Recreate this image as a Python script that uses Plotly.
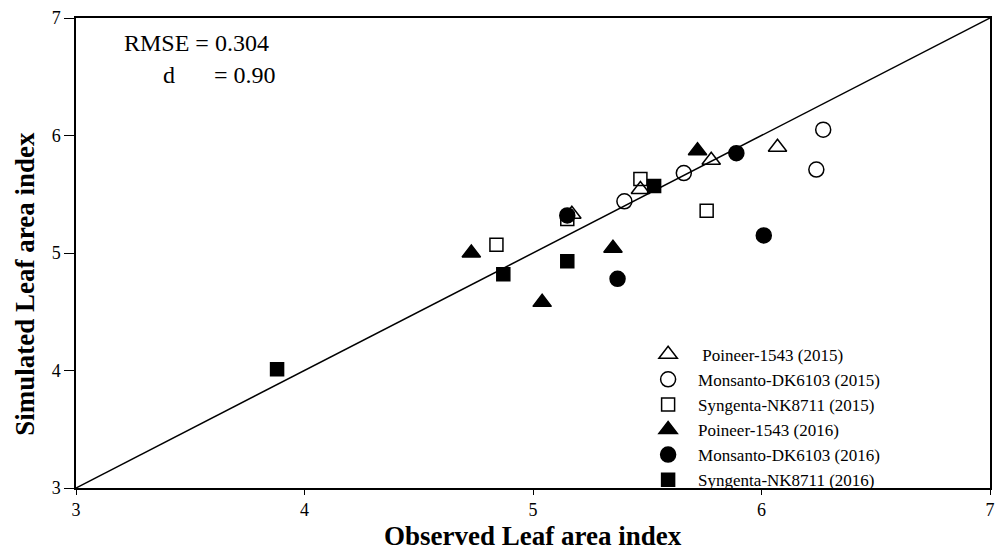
import plotly.graph_objects as go

# Observed vs simulated leaf area index for three maize hybrids, two seasons
series_names = [
    " Poineer-1543 (2015)",
    "Monsanto-DK6103 (2015)",
    "Syngenta-NK8711 (2015)",
    "Poineer-1543 (2016)",
    "Monsanto-DK6103 (2016)",
    "Syngenta-NK8711 (2016)",
]
poineer_2015_obs = [5.17, 5.47, 5.78, 6.07]
poineer_2015_sim = [5.33, 5.54, 5.79, 5.90]
monsanto_2015_obs = [5.40, 5.66, 6.24, 6.27]
monsanto_2015_sim = [5.44, 5.68, 5.71, 6.05]
syngenta_2015_obs = [4.84, 5.15, 5.47, 5.76]
syngenta_2015_sim = [5.07, 5.29, 5.63, 5.36]
poineer_2016_obs = [4.73, 5.04, 5.35, 5.72]
poineer_2016_sim = [5.00, 4.58, 5.04, 5.87]
monsanto_2016_obs = [5.15, 5.37, 5.89, 6.01]
monsanto_2016_sim = [5.32, 4.78, 5.85, 5.15]
syngenta_2016_obs = [3.88, 4.87, 5.15, 5.53]
syngenta_2016_sim = [4.01, 4.82, 4.93, 5.57]

axis_range = [3, 7]
tick_values = [3, 4, 5, 6, 7]
rmse_label = "RMSE = 0.304"
d_label = "d"
d_value = "= 0.90"
x_title = "Observed Leaf area index"
y_title = "Simulated Leaf area index"

observed = [poineer_2015_obs, monsanto_2015_obs, syngenta_2015_obs,
            poineer_2016_obs, monsanto_2016_obs, syngenta_2016_obs]
simulated = [poineer_2015_sim, monsanto_2015_sim, syngenta_2015_sim,
             poineer_2016_sim, monsanto_2016_sim, syngenta_2016_sim]
symbols = ["triangle-up-open", "circle-open", "square-open",
           "triangle-up", "circle", "square"]
sizes = [16, 15, 13, 16, 15, 13]

serif = "Liberation Serif"

fig = go.Figure()

# 1:1 reference line
fig.add_trace(go.Scatter(x=axis_range, y=axis_range, mode="lines",
                         line=dict(color="black", width=1.5),
                         showlegend=False, hoverinfo="skip"))

for name, xs, ys, sym, sz in zip(series_names, observed, simulated, symbols, sizes):
    fig.add_trace(go.Scatter(
        x=xs, y=ys, mode="markers", name=name,
        marker=dict(symbol=sym, size=sz, color="black",
                    line=dict(color="black", width=1.5)),
    ))

# Goodness-of-fit statistics
stat_font = dict(family=serif, size=24, color="black")
fig.add_annotation(x=0.051, y=0.947, xref="paper", yref="paper",
                   text=rmse_label, showarrow=False, xanchor="left",
                   yanchor="middle", font=stat_font, borderpad=0)
fig.add_annotation(x=0.094, y=0.879, xref="paper", yref="paper",
                   text=d_label, showarrow=False, xanchor="left",
                   yanchor="middle", font=stat_font, borderpad=0)
fig.add_annotation(x=0.150, y=0.879, xref="paper", yref="paper",
                   text=d_value, showarrow=False, xanchor="left",
                   yanchor="middle", font=stat_font, borderpad=0)

# Axis titles
title_font = dict(family=serif, size=27, color="black")
fig.add_annotation(x=0.5, y=-0.102, xref="paper", yref="paper",
                   text=f"<b>{x_title}</b>", showarrow=False, borderpad=0,
                   xanchor="center", yanchor="middle", font=title_font)
fig.add_annotation(x=-0.056, y=0.434, xref="paper", yref="paper",
                   text=f"<b>{y_title}</b>", showarrow=False, textangle=-90,
                   borderpad=0, xanchor="center", yanchor="middle",
                   font=title_font)

axis_common = dict(range=axis_range, tickvals=tick_values, ticks="outside",
                   tickwidth=1.2, tickcolor="black",
                   showline=True, linecolor="black", linewidth=1.5,
                   mirror=True, showgrid=False, zeroline=False,
                   tickfont=dict(family=serif, size=18, color="black"))

fig.update_xaxes(ticklen=5, **axis_common)
fig.update_yaxes(ticklen=10, **axis_common)

fig.update_layout(
    width=997, height=550,
    margin=dict(l=76, r=7, t=18, b=62, autoexpand=False),
    plot_bgcolor="white", paper_bgcolor="white",
    legend=dict(x=0.615, y=0.322, xanchor="left", yanchor="top",
                bgcolor="rgba(0,0,0,0)",
                font=dict(family=serif, size=17, color="black"),
                tracegroupgap=0, itemwidth=50),
)

fig.write_html("out.html")
